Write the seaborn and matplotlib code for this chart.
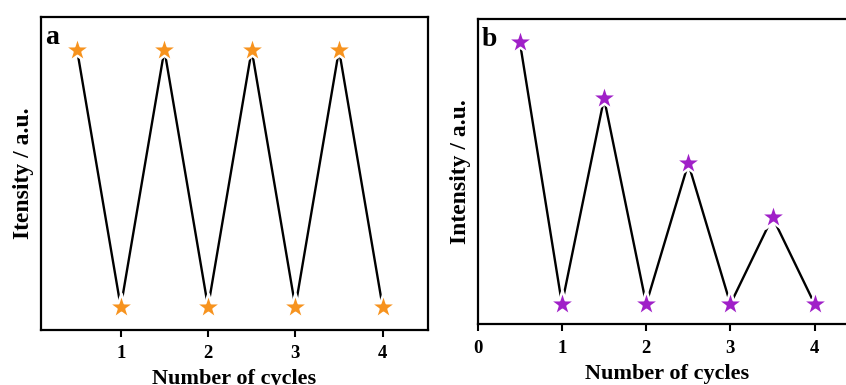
import matplotlib
matplotlib.use('Agg')
import matplotlib.pyplot as plt
import seaborn as sns

# data
cycles = [0.5, 1, 1.5, 2, 2.5, 3, 3.5, 4]
intensity_a = [1.0, 0.0, 1.0, 0.0, 1.0, 0.0, 1.0, 0.0]
intensity_b = [1.0, 0.0, 0.785, 0.0, 0.537, 0.0, 0.332, 0.0]
xticks_a = [1, 2, 3, 4]
xticks_b = [0, 1, 2, 3, 4]

sns.set_style('ticks')
plt.rcParams['font.family'] = ['Liberation Serif', 'DejaVu Serif']
plt.rcParams['font.weight'] = 'bold'
plt.rcParams['text.color'] = 'black'
plt.rcParams['axes.labelcolor'] = 'black'
plt.rcParams['xtick.color'] = 'black'

fig = plt.figure(figsize=(8.46, 3.85), dpi=100)
ax1 = fig.add_axes([0.0485, 0.1429, 0.4575, 0.8129])
ax2 = fig.add_axes([0.5647, 0.1577, 0.448, 0.7929])


def draw_panel(ax, y, color, ticks, xlim, ylim, ylabel, letter):
    sns.lineplot(x=cycles, y=y, ax=ax, color='black', linewidth=1.7, sort=False)
    sns.scatterplot(x=cycles, y=y, ax=ax, marker='*', s=400, color=color,
                    edgecolor='white', linewidth=1.8, zorder=3)
    ax.set_xlim(*xlim)
    ax.set_ylim(*ylim)
    ax.set_xticks(ticks)
    ax.set_xticklabels([str(t) for t in ticks], fontsize=13.5, fontweight='bold')
    ax.set_yticks([])
    ax.tick_params(axis='x', direction='out', length=5, width=1.5, pad=6,
                   colors='black')
    for sp in ax.spines.values():
        sp.set_linewidth(1.6)
        sp.set_color('black')
        sp.set_visible(True)
    ax.set_xlabel('Number of cycles', fontsize=16, fontweight='bold', labelpad=5)
    ax.set_ylabel(ylabel, fontsize=17, fontweight='bold', labelpad=5)
    ax.text(0.01, 0.975, letter, transform=ax.transAxes, fontsize=20,
            fontweight='bold', va='top', ha='left')


draw_panel(ax1, intensity_a, '#F7931E', xticks_a, (0.087, 4.52), (-0.089, 1.128),
           'Itensity / a.u.', 'a')
draw_panel(ax2, intensity_b, '#A020C8', xticks_b, (0, 4.5), (-0.077, 1.088),
           'Intensity / a.u.', 'b')

fig.savefig('out.png', dpi=100)
